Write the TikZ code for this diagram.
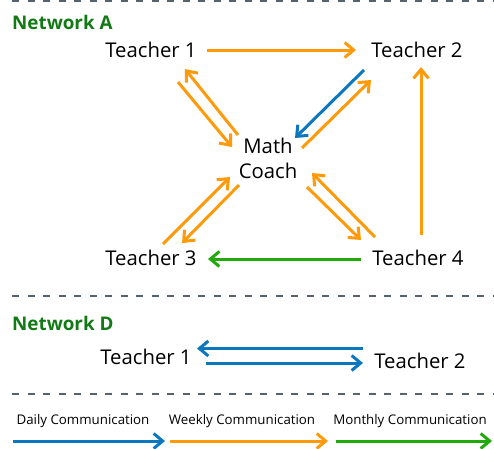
\documentclass[tikz,border=0pt]{standalone}
\usepackage{fontspec}
\setmainfont{Open Sans}
\usetikzlibrary{arrows.meta}
\definecolor{wkorange}{HTML}{FF9A0A}
\definecolor{dyblue}{HTML}{0B77BE}
\definecolor{mogreen}{HTML}{22AA0A}
\definecolor{hdgreen}{HTML}{117A14}
\definecolor{sepgray}{HTML}{56626E}
\tikzset{
  lbl/.style={font=\fontsize{20.3}{22}\selectfont, text=black, inner sep=0pt},
  hdr/.style={font=\fontsize{18.8}{20}\selectfont\bfseries, text=hdgreen, inner sep=0pt, anchor=west},
  leg/.style={font=\fontsize{13.3}{15}\selectfont, text=black, inner sep=0pt},
  conn/.style={line width=3pt, -{Straight Barb[length=9pt,width=15pt,line width=3pt]}},
  daily/.style={conn, draw=dyblue},
  weekly/.style={conn, draw=wkorange},
  monthly/.style={conn, draw=mogreen},
  sep/.style={draw=sepgray, line width=2pt, dash pattern=on 7pt off 8.5pt}
}
\begin{document}
\begin{tikzpicture}[x=1pt,y=-1pt]
\useasboundingbox (0,0) rectangle (494,448);
% separators
\coordinate (s1a) at (12,1);   \coordinate (s1b) at (494,1);
\coordinate (s2a) at (12,296); \coordinate (s2b) at (494,296);
\coordinate (s3a) at (12,394); \coordinate (s3b) at (494,394);
\draw[sep] (s1a) -- (s1b);
\draw[sep] (s2a) -- (s2b);
\draw[sep] (s3a) -- (s3b);
% Network A
\node[hdr] (hA) at (12,22) {Network A};
\node[lbl] (t1) at (151,50) {Teacher 1};
\node[lbl] (t2) at (417,50) {Teacher 2};
\node[lbl, align=center, font=\fontsize{20.3}{25}\selectfont] (mc) at (268,158) {Math\\Coach};
\node[lbl] (t3) at (151,258) {Teacher 3};
\node[lbl] (t4) at (418,258) {Teacher 4};
\draw[weekly] ([shift={(56,0)}]t1.center) -- ([shift={(-61,0)}]t2.center);
\draw[weekly] ([shift={(27,32)}]t1.center) -- ([shift={(-36,-11)}]mc.center);
\draw[weekly] ([shift={(-30,-23)}]mc.center) -- ([shift={(34,19)}]t1.center);
\draw[daily] ([shift={(-53,20)}]t2.center) -- ([shift={(27,-20)}]mc.center);
\draw[weekly] ([shift={(34,-10)}]mc.center) -- ([shift={(-46,30)}]t2.center);
\draw[weekly] ([shift={(3,-23)}]t4.center) -- ([shift={(4,17)}]t2.center);
\draw[weekly] ([shift={(12,-14)}]t3.center) -- ([shift={(-38,19)}]mc.center);
\draw[weekly] ([shift={(-29,27)}]mc.center) -- ([shift={(31,-15)}]t3.center);
\draw[weekly] ([shift={(39,29)}]mc.center) -- ([shift={(-57,-18)}]t4.center);
\draw[weekly] ([shift={(-43,-21)}]t4.center) -- ([shift={(44,15)}]mc.center);
\draw[monthly] ([shift={(-57,1)}]t4.center) -- ([shift={(57,1)}]t3.center);
% Network D
\node[hdr] (hD) at (12,323) {Network D};
\node[lbl] (d1) at (146,357) {Teacher 1};
\node[lbl] (d2) at (420,361) {Teacher 2};
\draw[daily] ([shift={(-57,-12.5)}]d2.center) -- ([shift={(51,-8.5)}]d1.center);
\draw[daily] ([shift={(60,6)}]d1.center) -- ([shift={(-57,2)}]d2.center);
% legend
\node[leg] (lg1) at (83,421) {Daily Communication};
\node[leg] (lg2) at (242,421) {Weekly Communication};
\node[leg] (lg3) at (410,421) {Monthly Communication};
\draw[daily] ([shift={(-70,20)}]lg1.center) -- ([shift={(82,20)}]lg1.center);
\draw[weekly] ([shift={(-72,20)}]lg2.center) -- ([shift={(86,20)}]lg2.center);
\draw[monthly] ([shift={(-74,20)}]lg3.center) -- ([shift={(82,20)}]lg3.center);
\end{tikzpicture}
\end{document}
